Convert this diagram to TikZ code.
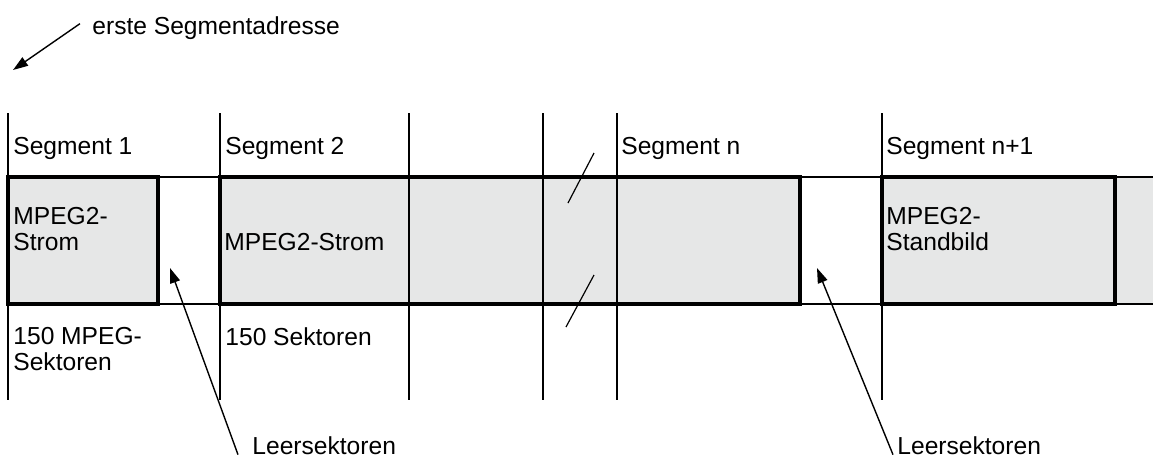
\documentclass[tikz,border=0pt]{standalone}
\usepackage{fontspec}
\setmainfont{Liberation Sans}
\usepackage{xcolor}
\usepackage{tikz}
\usetikzlibrary{arrows.meta}
\definecolor{streamgray}{HTML}{E6E7E7}

\begin{document}
\begin{tikzpicture}[x=0.5pt, y=-0.5pt,
    txt/.style={anchor=base west, inner sep=0pt, align=left, font=\fontsize{12.3pt}{12.8pt}\selectfont},
    thinline/.style={line width=0.9pt},
    thickline/.style={line width=1.6pt},
    pointer/.style={line width=0.7pt, -{Triangle[length=7.5pt, width=5pt]}}]
  \useasboundingbox (0,0) rectangle (1153,457);

  % Band
  \fill[streamgray] (1115,177) rectangle (1153,304);
  \draw[thinline] (8,177) -- (1153,177);
  \draw[thinline] (8,304) -- (1153,304);
  \draw[thickline, fill=streamgray] (8,177) rectangle (158,304);
  \draw[thickline, fill=streamgray] (220,177) rectangle (800,304);
  \draw[thickline, fill=streamgray] (882,177) rectangle (1115,304);

  % Segment borders
  \foreach \x in {8,220,409,543,617,882}
    \draw[thinline] (\x,113) -- (\x,400);

  % Break marks
  \draw[line width=0.6pt] (568,203) -- (594,153);
  \draw[line width=0.6pt] (566,327) -- (594,275);

  % Nodes
  \node[txt] (seg1) at (13,154) {Segment 1};
  \node[txt] (seg2) at (225,154) {Segment 2};
  \node[txt] (segn) at (621,154) {Segment n};
  \node[txt] (segm) at (886,154) {Segment n+1};
  \node[txt] (strom1) at (13,250) {MPEG2-\\Strom};
  \node[txt] (strom2) at (224,250) {MPEG2-Strom};
  \node[txt] (still) at (886,250) {MPEG2-\\Standbild};
  \node[txt] (sek1) at (13,370) {150 MPEG-\\Sektoren};
  \node[txt] (sek2) at (225,345) {150 Sektoren};
  \node[txt] (adr) at (92,34) {erste Segmentadresse};
  \node[txt] (leer1) at (252,454) {Leersektoren};
  \node[txt] (leer2) at (897,454) {Leersektoren};

  \coordinate (first) at (13,70);
  \coordinate (gap1) at (170,268);
  \coordinate (gap2) at (817,268);

  % Edges
  \draw[pointer] ([xshift=-6pt, yshift=2pt]adr.west) -- (first);
  \draw[pointer] ([xshift=-7pt]leer1.south west) -- (gap1);
  \draw[pointer] ([xshift=-2pt]leer2.south west) -- (gap2);
\end{tikzpicture}
\end{document}
